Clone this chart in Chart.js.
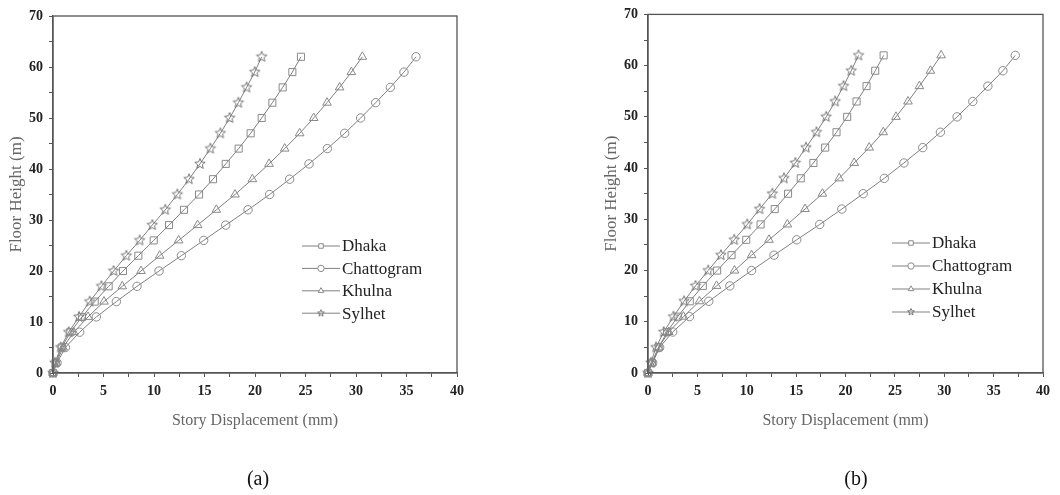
<!DOCTYPE html>
<html>
<head>
<meta charset="utf-8">
<script src="https://cdn.jsdelivr.net/npm/chart.js@4.4.1/dist/chart.umd.min.js"></script>
<style>
  body { margin: 0; background: #fff; }
  #wrap { position: relative; width: 1060px; height: 495px; background: #fff; }
  canvas { position: absolute; top: 0; }
  #cA { left: 0; }
  #cB { left: 530px; }
  .cap { position: absolute; font: 20px 'Liberation Serif', serif; color: #111; transform: translate(-50%, -50%); }
</style>
</head>
<body>
<div id="wrap">
  <canvas id="cA" width="530" height="495"></canvas>
  <canvas id="cB" width="530" height="495"></canvas>
  <div class="cap" style="left:258px; top:478px;">(a)</div>
  <div class="cap" style="left:856px; top:478px;">(b)</div>
</div>
<script>
// floor heights (m), shared by every series
const heights = [0, 2, 5, 8, 11, 14, 17, 20, 23, 26, 29, 32, 35, 38, 41, 44, 47, 50, 53, 56, 59, 62];
const cities = ['Dhaka', 'Chattogram', 'Khulna', 'Sylhet'];

// (a) story displacement (mm)
const dhakaA      = [0, 0.26, 0.86, 1.72, 2.87, 4.13, 5.51, 6.93, 8.45, 9.97, 11.49, 12.97, 14.46, 15.84, 17.1, 18.38, 19.57, 20.66, 21.72, 22.74, 23.7, 24.55];
const chattogramA = [0, 0.4, 1.22, 2.64, 4.29, 6.27, 8.32, 10.5, 12.71, 14.92, 17.1, 19.31, 21.45, 23.43, 25.35, 27.16, 28.88, 30.46, 31.95, 33.4, 34.75, 35.94];
const khulnaA     = [0, 0.33, 0.99, 2.05, 3.47, 5.05, 6.86, 8.71, 10.56, 12.44, 14.32, 16.17, 18.02, 19.74, 21.39, 22.94, 24.42, 25.81, 27.13, 28.38, 29.54, 30.63];
const sylhetA     = [0, 0.2, 0.76, 1.55, 2.57, 3.63, 4.79, 6.0, 7.26, 8.58, 9.83, 11.12, 12.31, 13.47, 14.55, 15.58, 16.57, 17.49, 18.35, 19.17, 19.97, 20.66];

// (b) story displacement (mm)
const dhakaB      = [0, 0.4, 1.08, 1.93, 3.01, 4.23, 5.55, 7.0, 8.46, 9.95, 11.4, 12.83, 14.18, 15.47, 16.75, 17.94, 19.09, 20.17, 21.12, 22.13, 23.01, 23.86];
const chattogramB = [0, 0.47, 1.18, 2.5, 4.2, 6.16, 8.29, 10.49, 12.76, 15.06, 17.39, 19.63, 21.79, 23.93, 25.92, 27.82, 29.61, 31.3, 32.89, 34.42, 35.94, 37.19];
const khulnaB     = [0, 0.4, 1.08, 2.1, 3.59, 5.21, 6.94, 8.76, 10.49, 12.25, 14.11, 15.9, 17.66, 19.36, 20.88, 22.4, 23.82, 25.11, 26.33, 27.48, 28.6, 29.68];
const sylhetB     = [0, 0.3, 0.81, 1.59, 2.57, 3.65, 4.81, 6.09, 7.38, 8.73, 10.05, 11.3, 12.59, 13.77, 14.92, 16.0, 17.06, 18.04, 18.95, 19.8, 20.58, 21.32];

const lineGray = '#808080';
const markGray = '#8a8a8a';

// five-pointed hollow star, used as a point style
function makeStar(r, color) {
    const c = document.createElement('canvas');
    const s = Math.ceil(r * 2 + 3);
    c.width = s; c.height = s;
    const g = c.getContext('2d');
    g.strokeStyle = color;
    g.lineWidth = 1;
    g.beginPath();
    for (let i = 0; i < 10; i++) {
        const rad = i % 2 === 0 ? r : r * 0.45;
        const a = -Math.PI / 2 + i * Math.PI / 5;
        const px = s / 2 + rad * Math.cos(a), py = s / 2 + rad * Math.sin(a);
        if (i === 0) g.moveTo(px, py); else g.lineTo(px, py);
    }
    g.closePath();
    g.stroke();
    return c;
}

const starBig = makeStar(5.5, '#777');
const starSmall = makeStar(3.5, '#777');
const styles = ['rect', 'circle', 'triangle', starBig];
const legendStyles = ['rect', 'circle', 'triangle', starSmall];
const radii = [5, 4.2, 5, 5];

const frame = {
    id: 'frame',
    afterDraw(chart) {
        const { ctx, chartArea: a } = chart;
        ctx.save();
        ctx.strokeStyle = '#555';
        ctx.lineWidth = 1.3;
        ctx.strokeRect(a.left, a.top, a.right - a.left, a.bottom - a.top);
        ctx.restore();
    }
};

const inLegend = {
    id: 'inLegend',
    afterDraw(chart, args, o) {
        const ctx = chart.ctx;
        ctx.save();
        ctx.font = "17px 'Liberation Serif', serif";
        ctx.textBaseline = 'middle';
        chart.data.datasets.forEach((d, i) => {
            const y = o.y0 + i * o.dy;
            ctx.strokeStyle = lineGray;
            ctx.lineWidth = 1;
            ctx.beginPath();
            ctx.moveTo(o.x1, y);
            ctx.lineTo(o.x2, y);
            ctx.stroke();
            ctx.fillStyle = '#fff';
            ctx.strokeStyle = markGray;
            Chart.helpers.drawPoint(ctx, { pointStyle: legendStyles[i], radius: 3.2, rotation: 0, borderWidth: 1 }, (o.x1 + o.x2) / 2, y);
            ctx.fillStyle = '#222';
            ctx.fillText(d.label, o.textX, y + 1);
        });
        ctx.restore();
    }
};

function makeChart(id, series, pad, leg) {
    const datasets = series.map((xs, i) => ({
        label: cities[i],
        data: heights.map((h, k) => ({ x: xs[k], y: h })),
        borderColor: lineGray,
        borderWidth: 1,
        pointStyle: styles[i],
        pointRadius: radii[i],
        pointBorderColor: markGray,
        pointBorderWidth: 1,
        pointBackgroundColor: 'rgba(0,0,0,0)',
        clip: false,
        tension: 0
    }));
    const tickFont = { family: "'Liberation Serif', serif", size: 14, weight: 'bold' };
    return new Chart(document.getElementById(id), {
        type: 'line',
        data: { datasets },
        options: {
            responsive: false,
            animation: false,
            layout: { padding: pad },
            plugins: { legend: { display: false }, tooltip: { enabled: false }, inLegend: leg },
            scales: {
                x: {
                    type: 'linear', min: 0, max: 40,
                    afterFit: s => { s.height = 57; },
                    grid: { drawOnChartArea: false, drawTicks: true, tickLength: 4, color: '#555' },
                    border: { color: '#555', width: 1.3 },
                    ticks: { stepSize: 2.5, autoSkip: false, maxRotation: 0, padding: 6, color: '#222', font: tickFont,
                        callback: v => v % 5 === 0 ? v : '' },
                    title: { display: true, text: 'Story Displacement (mm)', color: '#666', padding: 0,
                        font: { family: "'Liberation Serif', serif", size: 16 } }
                },
                y: {
                    type: 'linear', min: 0, max: 70,
                    afterFit: s => { s.width = 53; },
                    grid: { drawOnChartArea: false, drawTicks: true, tickLength: 4, color: '#555' },
                    border: { color: '#555', width: 1.3 },
                    ticks: { stepSize: 5, autoSkip: false, padding: 6, color: '#222', font: tickFont,
                        callback: v => v % 10 === 0 ? v : '' },
                    title: { display: true, text: 'Floor Height (m)', color: '#666', padding: { top: 6, bottom: 0 },
                        font: { family: "'Liberation Serif', serif", size: 17 } }
                }
            }
        },
        plugins: [frame, inLegend]
    });
}

makeChart('cA', [dhakaA, chattogramA, khulnaA, sylhetA],
    { left: 0, right: 73, top: 16, bottom: 65 },
    { x1: 302, x2: 340, textX: 342, y0: 246, dy: 22.4 });
makeChart('cB', [dhakaB, chattogramB, khulnaB, sylhetB],
    { left: 65, right: 17, top: 11, bottom: 65 },
    { x1: 362, x2: 400, textX: 402, y0: 243, dy: 23 });
</script>
</body>
</html>
